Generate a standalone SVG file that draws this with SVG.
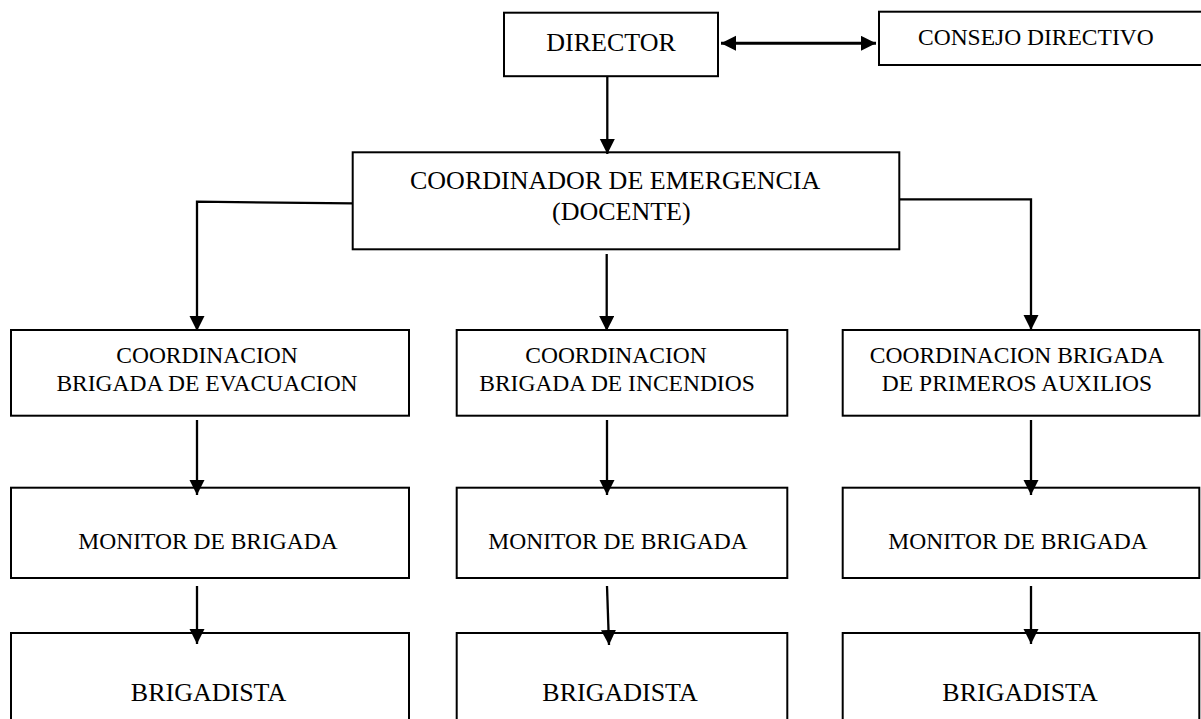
<svg xmlns="http://www.w3.org/2000/svg" width="1201" height="719" viewBox="0 0 1201 719">
<style>
.box{fill:#fff;stroke:#000;stroke-width:2}
.t{font-family:"Liberation Serif","Times New Roman",serif;fill:#000}
.c{text-anchor:middle}
.ln{fill:none;stroke:#000;stroke-width:2.3}
.arr{marker-end:url(#ah)}
</style>
<defs>
<marker id="ah" markerWidth="16" markerHeight="16" refX="15" refY="7.5" orient="auto-start-reverse" markerUnits="userSpaceOnUse">
<path d="M0,0 L15,7.5 L0,15 z" fill="#000"/>
</marker>
</defs>
<rect width="1201" height="719" fill="#fff"/>
<g id="director">
<rect class="box" x="504" y="12.7" width="214" height="63.5"/>
<text class="t c" x="611" y="50.7" font-size="26">DIRECTOR</text>
</g>
<g id="consejo">
<rect class="box" x="879" y="11.7" width="330" height="53.3"/>
<text class="t" x="918" y="45" font-size="23.5">CONSEJO DIRECTIVO</text>
</g>
<g id="coordinador">
<rect class="box" x="352.7" y="152.3" width="546.6" height="97"/>
<text class="t" x="410" y="189" font-size="26">COORDINADOR DE EMERGENCIA</text>
<text class="t" x="552" y="220" font-size="26">(DOCENTE)</text>
</g>
<g id="coord-evacuacion">
<rect class="box" x="11" y="330" width="398" height="85.7"/>
<text class="t c" x="207" y="363" font-size="23.5">COORDINACION</text>
<text class="t c" x="207" y="391" font-size="23.5">BRIGADA DE EVACUACION</text>
</g>
<g id="coord-incendios">
<rect class="box" x="456.7" y="330" width="330.6" height="85.7"/>
<text class="t c" x="616" y="363" font-size="23.5">COORDINACION</text>
<text class="t c" x="617" y="391" font-size="23.5">BRIGADA DE INCENDIOS</text>
</g>
<g id="coord-auxilios">
<rect class="box" x="842.7" y="330" width="356.6" height="85.7"/>
<text class="t c" x="1017" y="363" font-size="23.5">COORDINACION BRIGADA</text>
<text class="t c" x="1017" y="391" font-size="23.5">DE PRIMEROS AUXILIOS</text>
</g>
<g id="monitor-1">
<rect class="box" x="11" y="487.7" width="398" height="90.3"/>
<text class="t c" x="208" y="549" font-size="23.5">MONITOR DE BRIGADA</text>
</g>
<g id="monitor-2">
<rect class="box" x="456.7" y="487.7" width="330.6" height="90.3"/>
<text class="t c" x="618" y="549" font-size="23.5">MONITOR DE BRIGADA</text>
</g>
<g id="monitor-3">
<rect class="box" x="842.7" y="487.7" width="356.6" height="90.3"/>
<text class="t c" x="1018" y="549" font-size="23.5">MONITOR DE BRIGADA</text>
</g>
<g id="brigadista-1">
<rect class="box" x="11" y="633" width="398" height="100"/>
<text class="t c" x="208.5" y="701" font-size="26">BRIGADISTA</text>
</g>
<g id="brigadista-2">
<rect class="box" x="456.7" y="633" width="330.6" height="100"/>
<text class="t c" x="620" y="701" font-size="26">BRIGADISTA</text>
</g>
<g id="brigadista-3">
<rect class="box" x="842.7" y="633" width="356.6" height="100"/>
<text class="t c" x="1020" y="701" font-size="26">BRIGADISTA</text>
</g>
<g id="connectors">
<line class="ln arr" x1="607.3" y1="76" x2="607.3" y2="154"/>
<line class="ln" style="stroke-width:3" x1="721" y1="43.3" x2="876" y2="43.3" marker-start="url(#ah)" marker-end="url(#ah)"/>
<polyline class="ln arr" points="352.7,203.3 197,201.7 197,331"/>
<line class="ln arr" x1="606.7" y1="254" x2="606.7" y2="331"/>
<polyline class="ln arr" points="899.3,199.3 1031,199.3 1031,330"/>
<line class="ln arr" x1="197" y1="420" x2="197" y2="495"/>
<line class="ln arr" x1="607" y1="420" x2="607" y2="495"/>
<line class="ln arr" x1="1031" y1="420" x2="1031" y2="495"/>
<line class="ln arr" x1="197" y1="586" x2="197" y2="644"/>
<line class="ln arr" x1="607" y1="586" x2="609" y2="645"/>
<line class="ln arr" x1="1031" y1="586" x2="1031" y2="644"/>
</g>
</svg>
